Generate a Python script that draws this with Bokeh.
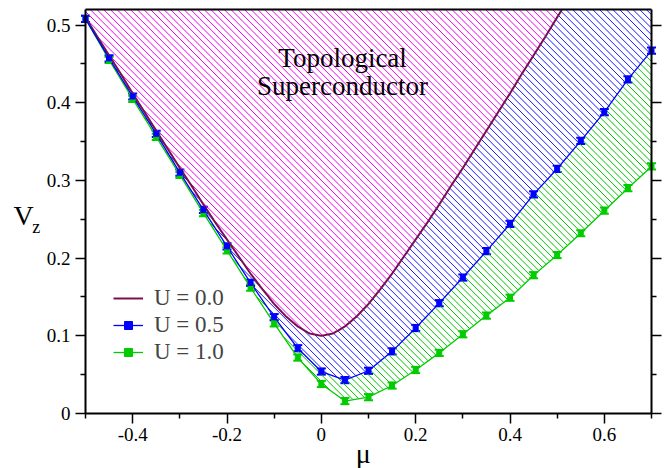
import numpy as np
from bokeh.plotting import figure
from bokeh.models import (Range1d, FixedTicker, CustomJSTickFormatter, LinearAxis, Legend,
                          LegendItem, Label, Whisker, TeeHead, ColumnDataSource)
from bokeh.embed import file_html
from bokeh.resources import INLINE

# U = 0.0 phase boundary
mu_u0 = [-0.5, -0.475, -0.45, -0.425, -0.4, -0.375, -0.35, -0.325, -0.3, -0.275, -0.25,
         -0.225, -0.2, -0.175, -0.15, -0.125, -0.1, -0.075, -0.05, -0.025, 0.0, 0.025,
         0.05, 0.075, 0.1, 0.125, 0.15, 0.175, 0.2, 0.225, 0.25, 0.275, 0.3, 0.325,
         0.35, 0.375, 0.4, 0.425, 0.45, 0.475, 0.5, 0.525]
vz_u0 = [0.510, 0.485, 0.461, 0.437, 0.412, 0.388, 0.364, 0.340, 0.316, 0.293, 0.269,
         0.246, 0.224, 0.202, 0.180, 0.160, 0.141, 0.125, 0.112, 0.103, 0.100, 0.103,
         0.112, 0.125, 0.141, 0.160, 0.180, 0.202, 0.224, 0.246, 0.269, 0.293, 0.316,
         0.340, 0.364, 0.388, 0.412, 0.437, 0.461, 0.485, 0.510, 0.534]

# U = 0.5 and U = 1.0 data points
mu_pts = [-0.5, -0.45, -0.4, -0.35, -0.3, -0.25, -0.2, -0.15, -0.1, -0.05, 0.0, 0.05,
          0.1, 0.15, 0.2, 0.25, 0.3, 0.35, 0.4, 0.45, 0.5, 0.55, 0.6, 0.65, 0.7]
vz_u05 = [0.508, 0.457, 0.408, 0.360, 0.310, 0.262, 0.215, 0.168, 0.124, 0.084, 0.054,
          0.043, 0.055, 0.080, 0.110, 0.142, 0.175, 0.209, 0.244, 0.282, 0.315, 0.351,
          0.388, 0.430, 0.467]
vz_u10 = [0.508, 0.455, 0.405, 0.356, 0.307, 0.258, 0.210, 0.162, 0.116, 0.072, 0.038,
          0.016, 0.021, 0.036, 0.056, 0.078, 0.102, 0.126, 0.149, 0.178, 0.204, 0.232,
          0.261, 0.290, 0.318]
err_u05 = [0.004, 0.004, 0.004, 0.004, 0.004, 0.004, 0.004, 0.004, 0.004, 0.004, 0.004,
           0.004, 0.004, 0.004, 0.004, 0.004, 0.004, 0.004, 0.004, 0.004, 0.004, 0.004,
           0.004, 0.004, 0.004]
err_u10 = [0.004, 0.004, 0.004, 0.004, 0.004, 0.004, 0.004, 0.004, 0.004, 0.004, 0.004,
           0.004, 0.004, 0.004, 0.004, 0.004, 0.004, 0.004, 0.004, 0.004, 0.004, 0.004,
           0.004, 0.004, 0.004]

x_major = [-0.4, -0.2, 0.0, 0.2, 0.4, 0.6]
x_labels = ["-0.4", "-0.2", "0", "0.2", "0.4", "0.6"]
x_minor = [-0.5, -0.3, -0.1, 0.1, 0.3, 0.5, 0.7]
y_major = [0.0, 0.1, 0.2, 0.3, 0.4, 0.5]
y_labels = ["0", "0.1", "0.2", "0.3", "0.4", "0.5"]
y_minor = [0.05, 0.15, 0.25, 0.35, 0.45]

SERIF = "Liberation Serif"
C_U0 = "#7a0f4f"
C_U05 = "#0000ff"
C_U10 = "#00cc00"
X0, X1, Y0, Y1 = -0.5, 0.7, 0.0, 0.52
W, H = 670, 468
ML, MR, MT, MB = 85, 19, 9, 55          # margins (px) around the data box

kx = (W - ML - MR) / (X1 - X0)           # px per data unit
ky = (H - MT - MB) / (Y1 - Y0)

p = figure(width=W, height=H, output_backend="svg", toolbar_location=None,
           x_axis_type=None, y_axis_type=None, min_border=0,
           x_range=Range1d(X0 - ML / kx, X1 + MR / kx),
           y_range=Range1d(Y0 - MB / ky, Y1 + MT / ky))
p.grid.visible = False
p.outline_line_color = None
p.background_fill_color = "white"
p.border_fill_color = "white"

blank = CustomJSTickFormatter(code="return '';")


def frame_axis(side, loc, maj, mnr, bounds, tick_len=10):
    ax = LinearAxis(fixed_location=loc, bounds=bounds,
                    ticker=FixedTicker(ticks=maj, minor_ticks=mnr), formatter=blank,
                    major_label_text_font_size="10px", major_label_standoff=0,
                    axis_line_width=2, axis_line_color="black",
                    major_tick_line_width=1.5, minor_tick_line_width=1.5,
                    major_tick_in=0, major_tick_out=tick_len,
                    minor_tick_in=0, minor_tick_out=tick_len // 2)
    p.add_layout(ax, side)


frame_axis("below", Y0, x_major, x_minor, (X0, X1))
frame_axis("left", X0, y_major, y_minor, (Y0, Y1))
frame_axis("right", X1, y_major, y_minor, (Y0, Y1))
frame_axis("above", Y1, [], [], (X0, X1), tick_len=0)

# 45-degree "\" hatching between the curves
xs = np.linspace(X0, X1, 2401)
top = np.full_like(xs, Y1)
b0 = np.minimum(np.interp(xs, mu_u0, vz_u0), Y1)
b05 = np.interp(xs, mu_pts, vz_u05)
b10 = np.interp(xs, mu_pts, vz_u10)


def hatch(lower, upper, step=6.7):
    hx, hy = [], []
    cmin, cmax = kx * X0 + ky * Y0, kx * X1 + ky * Y1
    for c in np.arange(cmin, cmax + step, step):
        yl = (c - kx * xs) / ky
        inside = (yl >= lower) & (yl <= upper)
        d = np.diff(np.concatenate([[0], inside.astype(int), [0]]))
        starts = np.where(d == 1)[0]
        ends = np.where(d == -1)[0] - 1
        for s, e in zip(starts, ends):
            if e > s:
                hx.append([float(xs[s]), float(xs[e])])
                hy.append([float(yl[s]), float(yl[e])])
    return hx, hy


for lo_, up_, hc in ((b0, top, "#f000f0"), (b05, b0, "#1a1aff"), (b10, b05, "#00c400")):
    hx, hy = hatch(lo_, up_)
    p.multi_line(hx, hy, line_color=hc, line_width=1)

# U = 0 curve, trimmed at the top of the box
xf = np.linspace(X0, mu_u0[-1], 1201)
yf = np.interp(xf, mu_u0, vz_u0)
keep = yf <= Y1
r0 = p.line(xf[keep], yf[keep], line_color=C_U0, line_width=2)

src05 = ColumnDataSource(dict(x=mu_pts, y=vz_u05,
                              lo=[v - e for v, e in zip(vz_u05, err_u05)],
                              hi=[v + e for v, e in zip(vz_u05, err_u05)]))
src10 = ColumnDataSource(dict(x=mu_pts, y=vz_u10,
                              lo=[v - e for v, e in zip(vz_u10, err_u10)],
                              hi=[v + e for v, e in zip(vz_u10, err_u10)]))

r10l = p.line("x", "y", source=src10, line_color=C_U10, line_width=1.3)
r05l = p.line("x", "y", source=src05, line_color=C_U05, line_width=1.3)

for src, col in ((src10, C_U10), (src05, C_U05)):
    p.add_layout(Whisker(source=src, base="x", lower="lo", upper="hi", line_color=col,
                         line_width=2,
                         lower_head=TeeHead(size=9, line_color=col, line_width=2),
                         upper_head=TeeHead(size=9, line_color=col, line_width=2)))

r10s = p.scatter("x", "y", source=src10, marker="square", size=5, fill_color=C_U10,
                 line_color=C_U10)
r05s = p.scatter("x", "y", source=src05, marker="square", size=5, fill_color=C_U05,
                 line_color=C_U05)

legend = Legend(items=[LegendItem(label="U = 0.0", renderers=[r0]),
                       LegendItem(label="U = 0.5", renderers=[r05l, r05s]),
                       LegendItem(label="U = 1.0", renderers=[r10l, r10s])],
                location=(ML + 28, MB + 48), padding=0, margin=0, spacing=1,
                glyph_width=30, glyph_height=20, label_height=20, label_standoff=11,
                label_text_font=SERIF, label_text_font_size="23px",
                border_line_alpha=0, background_fill_alpha=0)
p.add_layout(legend)

# tick labels (serif), one Label per tick
for tv, tl in zip(x_major, x_labels):
    p.add_layout(Label(x=tv, y=Y0, text=tl, y_offset=-14, text_align="center",
                       text_baseline="top", text_font=SERIF, text_font_size="19px",
                       text_color="black"))
for tv, tl in zip(y_major, y_labels):
    p.add_layout(Label(x=X0, y=tv, text=tl, x_offset=-15, text_align="right",
                       text_baseline="middle", text_font=SERIF, text_font_size="19px",
                       text_color="black"))

# texts
for t, yy in (("Topological", 0.4578), ("Superconductor", 0.4218)):
    p.add_layout(Label(x=0.045, y=yy, text=t, text_align="center",
                       text_baseline="alphabetic", text_font=SERIF,
                       text_font_size="27px", text_color="black"))

p.add_layout(Label(x=0.089, y=-0.052, text="μ", text_align="center",
                   text_baseline="alphabetic", text_font=SERIF, text_font_size="28px",
                   text_color="black"))
p.add_layout(Label(x=-0.6525, y=0.2544, text="V", text_font=SERIF, text_font_size="28px",
                   text_baseline="alphabetic", text_color="black"))
p.add_layout(Label(x=-0.613, y=0.2403, text="z", text_font=SERIF, text_font_size="18px",
                   text_baseline="alphabetic", text_color="black"))

open("out.html", "w").write(file_html(p, INLINE))
